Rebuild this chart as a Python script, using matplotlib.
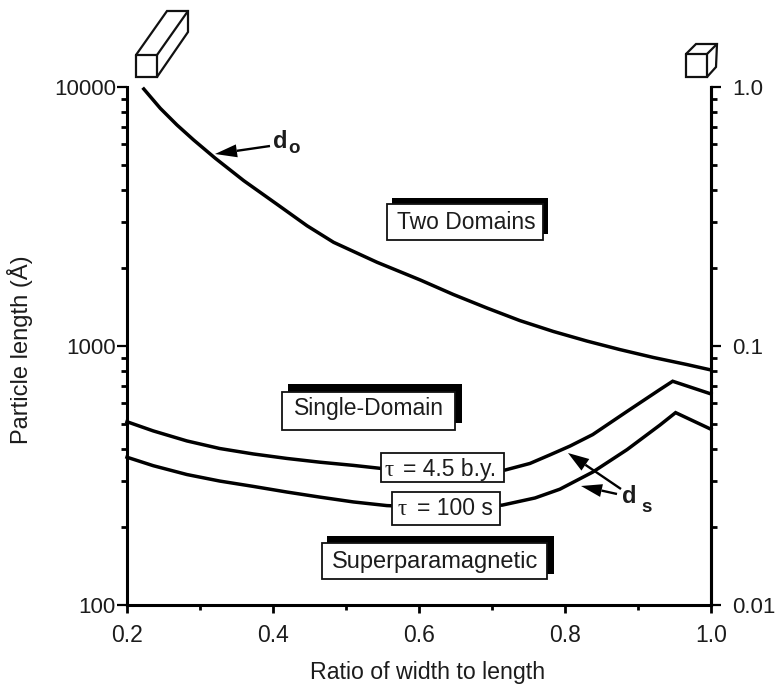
import matplotlib
matplotlib.use("Agg")
import matplotlib.pyplot as plt
from matplotlib.patches import Rectangle, Polygon
from matplotlib.ticker import FixedLocator, NullFormatter, FixedFormatter
import numpy as np

plt.rcParams['font.family'] = ['Liberation Sans', 'DejaVu Sans']

do_x = [.223, .2456, .2685, .2913, .321, .360, .4055, .4466, .483, .5425, .6018, .647, .693, .738, .784, .830, .875, .921, .967, 1.0]
do_y = [9824, 8274, 7133, 6243, 5305, 4347, 3525, 2913, 2514, 2105, 1798, 1581, 1402, 1254, 1138, 1045, 969, 903, 848, 808]

tau_by_x = [.2, .236, .282, .327, .373, .419, .464, .510, .547, .632, .718, .752, .7795, .807, .838, .885, .930, .9475, 1.0]
tau_by_y = [510, 470, 430, 402, 383, 368, 356, 346, 337, 326, 332, 352, 380, 411, 455, 559, 679, 731, 653]

tau_s_x = [.2, .236, .282, .327, .373, .419, .464, .510, .556, .637, .714, .759, .793, .838, .885, .930, .9515, 1.0]
tau_s_y = [372, 345, 319, 301, 287, 273, 261, 250, 242, 237, 243, 259, 280, 326, 398, 495, 553, 477]

x_major = [0.2, 0.4, 0.6, 0.8, 1.0]
x_minor = [0.3, 0.5, 0.7, 0.9]
y_major = [100, 1000, 10000]
y_labels = ['100', '1000', '10000']
r_major = [0.01, 0.1, 1.0]
r_labels = ['0.01', '0.1', '1.0']
mult = [2, 3, 4, 5, 6, 7, 8, 9]

W, H = 778, 687
TC = '#1c1c1c'
fig = plt.figure(figsize=(W / 100, H / 100), dpi=100, facecolor='white')
ax = fig.add_axes([127 / W, (H - 605) / H, (711 - 127) / W, (605 - 87) / H])
ax.set_xscale('linear')
ax.set_yscale('log')
ax.set_xlim(0.2, 1.0)
ax.set_ylim(100, 10000)

for xs, ys in [(do_x, do_y), (tau_by_x, tau_by_y), (tau_s_x, tau_s_y)]:
    ax.plot(xs, ys, color='black', lw=2.5, solid_joinstyle='miter', clip_on=False, zorder=3)

ax.spines['top'].set_visible(False)
for s in ['left', 'right', 'bottom']:
    ax.spines[s].set_linewidth(2.2)

ax.xaxis.set_major_locator(FixedLocator(x_major))
ax.xaxis.set_minor_locator(FixedLocator(x_minor))
ax.set_xticklabels([f'{v:.1f}' for v in x_major])
ax.yaxis.set_major_locator(FixedLocator(y_major))
ax.yaxis.set_major_formatter(FixedFormatter(y_labels))
ax.yaxis.set_minor_locator(FixedLocator([m * d for d in (100, 1000) for m in mult]))
ax.yaxis.set_minor_formatter(NullFormatter())
ax.tick_params(axis='x', which='major', length=6, width=2, labelsize=16.5, pad=8, labelcolor=TC)
ax.tick_params(axis='x', which='minor', length=3.5, width=2)
ax.tick_params(axis='y', which='major', length=7, width=1.6, labelsize=16, pad=1, labelcolor=TC)
ax.tick_params(axis='y', which='minor', length=4, width=2)
ax.set_xlabel('Ratio of width to length', fontsize=16.7, color=TC)
ax.xaxis.set_label_coords(428 / W, (H - 672) / H, transform=fig.transFigure)
ax.xaxis.label.set_va('center')
ax.set_ylabel('Particle length (Å)', fontsize=17, color=TC)
ax.yaxis.set_label_coords(20 / W, (H - 350) / H, transform=fig.transFigure)
ax.yaxis.label.set_va('center')

rax = ax.twinx()
rax.set_yscale('log')
rax.set_ylim(0.01, 1.0)
rax.spines['top'].set_visible(False)
rax.spines['right'].set_linewidth(2.2)
rax.spines['left'].set_visible(False)
rax.spines['bottom'].set_visible(False)
rax.yaxis.set_major_locator(FixedLocator(r_major))
rax.yaxis.set_major_formatter(FixedFormatter(r_labels))
rax.yaxis.set_minor_locator(FixedLocator([m * d for d in (0.01, 0.1) for m in mult]))
rax.yaxis.set_minor_formatter(NullFormatter())
rax.tick_params(axis='y', which='major', length=7, width=1.6, labelsize=16, pad=8.5, labelcolor=TC)
rax.tick_params(axis='y', which='minor', length=4, width=2)

# overlay in reference pixel space for the annotations
ov = fig.add_axes([0, 0, 1, 1], facecolor='none')
ov.set_xlim(0, W)
ov.set_ylim(H, 0)
ov.axis('off')


def box(x0, y0, x1, y1, shadow=None):
    if shadow:
        sx0, sy0, sx1, sy1 = shadow
        ov.add_patch(Rectangle((sx0, sy0), sx1 - sx0, sy1 - sy0, fc='black', ec='black', lw=0))
    ov.add_patch(Rectangle((x0, y0), x1 - x0, y1 - y0, fc='white', ec='#111111', lw=1.3))


box(387, 204, 543, 240, (392, 198, 548, 234))
ov.text(397, 229, 'Two Domains', fontsize=16.5, color=TC, va='baseline')
box(282, 392, 455, 430, (288, 384, 462, 423))
ov.text(294, 415, 'Single-Domain', fontsize=16.5, color=TC, va='baseline')
box(322, 543, 547, 579, (327, 536, 554, 574))
ov.text(332, 568, 'Superparamagnetic', fontsize=17, color=TC, va='baseline')

box(381, 453, 504, 482)
ov.text(385, 476, 'τ', fontsize=16.5, color=TC, va='baseline', family='Liberation Serif')
ov.text(403, 476, '= 4.5 b.y.', fontsize=16.5, color=TC, va='baseline')
box(392, 492, 500, 525)
ov.text(398, 515, 'τ', fontsize=16.5, color=TC, va='baseline', family='Liberation Serif')
ov.text(417, 515, '= 100 s', fontsize=16.5, color=TC, va='baseline')


def arrow(tail, tip, hl=22, hw=13):
    tail, tip = np.array(tail, float), np.array(tip, float)
    u = (tip - tail) / np.hypot(*(tip - tail))
    n = np.array([-u[1], u[0]])
    base = tip - u * hl
    ov.plot([tail[0], base[0]], [tail[1], base[1]], color='black', lw=1.7, solid_capstyle='butt')
    ov.add_patch(Polygon([tip, base + n * hw / 2, base - n * hw / 2], closed=True, fc='black', ec='none'))


arrow((270, 146), (215, 154))
arrow((621, 489), (568, 453), hl=21, hw=14)
arrow((617, 494), (581, 486), hl=21, hw=13)

ov.text(273, 148, 'd', fontsize=17, fontweight='bold', color=TC, va='baseline')
ov.text(288, 153, 'o', fontsize=13.5, fontweight='bold', color=TC, va='baseline')
ov.text(622, 503, 'd', fontsize=17, fontweight='bold', color=TC, va='baseline')
ov.text(641, 512, 's', fontsize=13.5, fontweight='bold', color=TC, va='baseline')


def lines(segs):
    for seg in segs:
        xs, ys = zip(*seg)
        ov.plot(xs, ys, color='#111111', lw=1.6, solid_joinstyle='miter', solid_capstyle='round')


lines([[(136, 55), (157, 55), (157, 77), (136, 77), (136, 55)],
       [(136, 55), (167, 11), (188, 11), (188, 32), (157, 77)],
       [(157, 55), (188, 11)]])
lines([[(686, 54), (707, 54), (707, 77), (686, 77), (686, 54)],
       [(686, 54), (696, 44), (717, 44), (716, 67), (707, 77)],
       [(707, 54), (717, 44)]])

fig.savefig('out.png', dpi=100, facecolor='white')
